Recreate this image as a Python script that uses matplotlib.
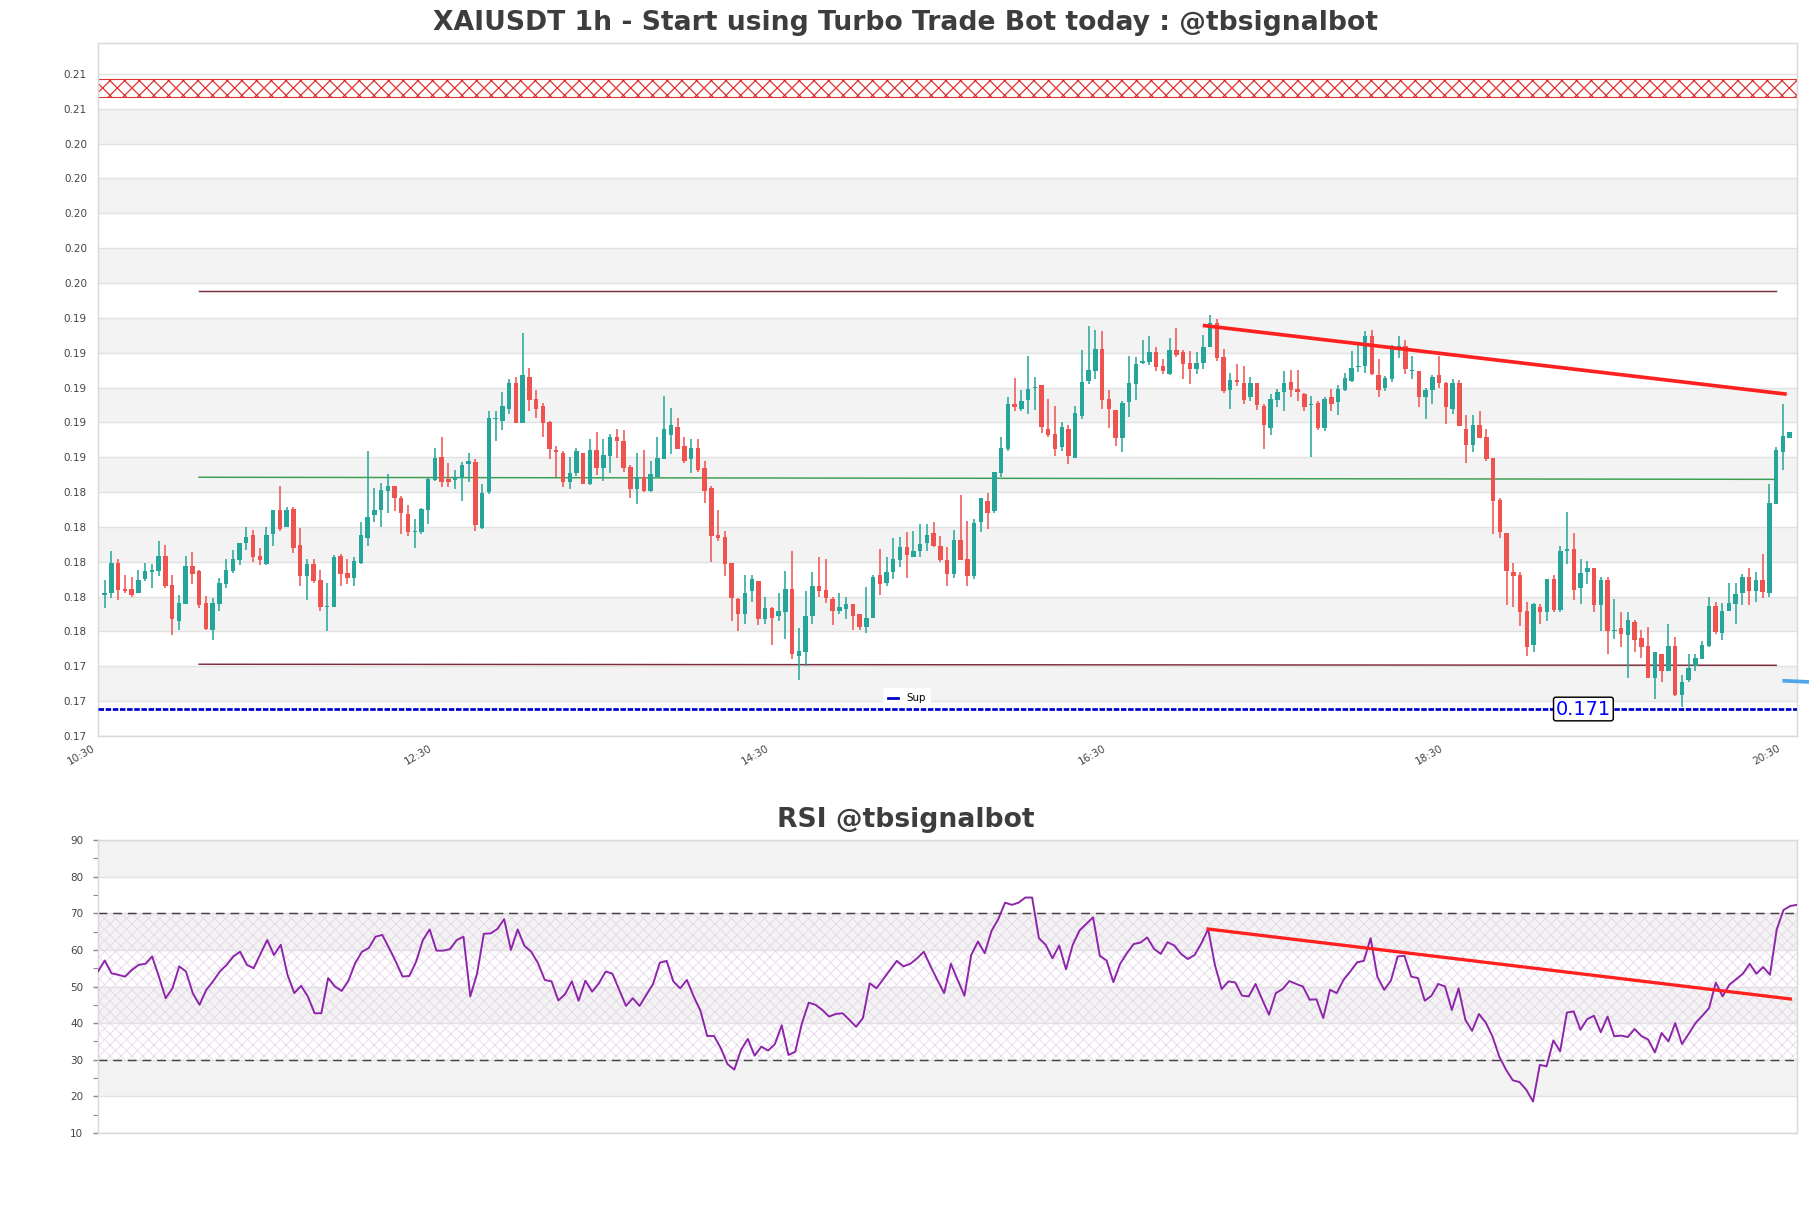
import matplotlib.pyplot as plt
from matplotlib.transforms import ScaledTranslation
import numpy as np

# OHLC candles (one per bar, left to right)
opens = [
    0.17754, 0.17767, 0.17936, 0.17786, 0.17786, 0.17767, 0.17844, 0.17888, 0.17892, 0.17976,
    0.17811, 0.17604, 0.17702, 0.17918, 0.17890, 0.17706, 0.17552, 0.17702, 0.17817, 0.17894,
    0.17955, 0.18051, 0.18097, 0.17976, 0.17930, 0.18103, 0.18243, 0.18147, 0.18246, 0.18039,
    0.17863, 0.17930, 0.17838, 0.17683, 0.17686, 0.17978, 0.17878, 0.17851, 0.17940, 0.18083,
    0.18214, 0.18243, 0.18352, 0.18377, 0.18310, 0.18218, 0.18118, 0.18116, 0.18243, 0.18415,
    0.18544, 0.18419, 0.18415, 0.18425, 0.18507, 0.18517, 0.18141, 0.18344, 0.18766, 0.18755,
    0.18824, 0.18971, 0.18743, 0.19004, 0.18881, 0.18839, 0.18745, 0.18584, 0.18569, 0.18404,
    0.18457, 0.18567, 0.18392, 0.18584, 0.18482, 0.18553, 0.18659, 0.18636, 0.18488, 0.18365,
    0.18431, 0.18352, 0.18434, 0.18536, 0.18674, 0.18718, 0.18609, 0.18536, 0.18596, 0.18486,
    0.18367, 0.18097, 0.18085, 0.17936, 0.17729, 0.17644, 0.17777, 0.17836, 0.17615, 0.17677,
    0.17633, 0.17658, 0.17786, 0.17402, 0.17428, 0.17635, 0.17807, 0.17782, 0.17729, 0.17661,
    0.17673, 0.17700, 0.17648, 0.17571, 0.17623, 0.17869, 0.17821, 0.17888, 0.17955, 0.18028,
    0.17972, 0.18007, 0.18051, 0.18108, 0.18037, 0.17955, 0.17874, 0.18070, 0.17959, 0.17863,
    0.18174, 0.18296, 0.18237, 0.18454, 0.18594, 0.18851, 0.18824, 0.18876, 0.18943, 0.18958,
    0.18707, 0.18678, 0.18603, 0.18707, 0.18540, 0.18783, 0.18985, 0.19039, 0.19167, 0.18879,
    0.18814, 0.18655, 0.18862, 0.18966, 0.19083, 0.19092, 0.19150, 0.19067, 0.19023, 0.19163,
    0.19150, 0.19087, 0.19052, 0.19083, 0.19177, 0.19313, 0.19119, 0.18931, 0.18989, 0.18971,
    0.18889, 0.18970, 0.18837, 0.18713, 0.18876, 0.18918, 0.18977, 0.18939, 0.18908, 0.18847,
    0.18856, 0.18713, 0.18891, 0.18862, 0.18933, 0.18985, 0.19065, 0.19067, 0.19240, 0.19019,
    0.18943, 0.18996, 0.19177, 0.19186, 0.19042, 0.19042, 0.18891, 0.18929, 0.19019, 0.18971,
    0.18824, 0.18971, 0.18707, 0.18617, 0.18732, 0.18661, 0.18540, 0.18300, 0.18108, 0.17888,
    0.17869, 0.17661, 0.17466, 0.17686, 0.17658, 0.17849, 0.17671, 0.18009, 0.18018, 0.17796,
    0.17888, 0.17907, 0.17696, 0.17840, 0.17546, 0.17566, 0.17523, 0.17600, 0.17510, 0.17460,
    0.17278, 0.17418, 0.17316, 0.17460, 0.17182, 0.17264, 0.17345, 0.17389, 0.17462, 0.17690,
    0.17537, 0.17661, 0.17702, 0.17763, 0.17855, 0.17777, 0.17840, 0.17767, 0.18277, 0.18574,
    0.18655,
]
highs = [
    0.17840, 0.18009, 0.17961, 0.17869, 0.17857, 0.17895, 0.17936, 0.17930, 0.18066, 0.18039,
    0.17869, 0.17757, 0.17976, 0.17999, 0.17897, 0.17746, 0.17738, 0.17853, 0.17959, 0.18011,
    0.18051, 0.18147, 0.18128, 0.18026, 0.18147, 0.18243, 0.18379, 0.18258, 0.18258, 0.18137,
    0.17959, 0.17959, 0.17895, 0.17826, 0.17984, 0.17988, 0.17959, 0.17970, 0.18175, 0.18578,
    0.18367, 0.18396, 0.18450, 0.18377, 0.18325, 0.18268, 0.18191, 0.18256, 0.18434, 0.18597,
    0.18661, 0.18509, 0.18473, 0.18517, 0.18569, 0.18536, 0.18390, 0.18808, 0.18808, 0.18920,
    0.18991, 0.19004, 0.19259, 0.19056, 0.18933, 0.18856, 0.18755, 0.18611, 0.18578, 0.18546,
    0.18597, 0.18567, 0.18649, 0.18689, 0.18649, 0.18678, 0.18707, 0.18701, 0.18498, 0.18569,
    0.18584, 0.18526, 0.18661, 0.18899, 0.18828, 0.18770, 0.18659, 0.18649, 0.18649, 0.18526,
    0.18377, 0.18243, 0.18124, 0.17936, 0.17738, 0.17869, 0.17869, 0.17836, 0.17744, 0.17686,
    0.17767, 0.17894, 0.18009, 0.17566, 0.17778, 0.17888, 0.17970, 0.17961, 0.17744, 0.17767,
    0.17740, 0.17702, 0.17648, 0.17798, 0.17869, 0.18016, 0.17970, 0.18080, 0.18085, 0.18118,
    0.18122, 0.18162, 0.18162, 0.18175, 0.18093, 0.18028, 0.18128, 0.18329, 0.18179, 0.18191,
    0.18310, 0.18342, 0.18459, 0.18661, 0.18891, 0.19000, 0.18929, 0.19125, 0.19006, 0.18958,
    0.18881, 0.18837, 0.18747, 0.18728, 0.18837, 0.19159, 0.19298, 0.19275, 0.19269, 0.18933,
    0.18818, 0.18866, 0.19125, 0.19119, 0.19217, 0.19240, 0.19177, 0.19111, 0.19230, 0.19288,
    0.19159, 0.19157, 0.19150, 0.19246, 0.19361, 0.19340, 0.19167, 0.19029, 0.19081, 0.19067,
    0.19004, 0.18970, 0.18853, 0.18910, 0.18939, 0.19042, 0.19044, 0.19044, 0.18914, 0.18895,
    0.18866, 0.18891, 0.18937, 0.18958, 0.19029, 0.19154, 0.19188, 0.19269, 0.19275, 0.19106,
    0.19010, 0.19188, 0.19240, 0.19217, 0.19125, 0.19042, 0.18943, 0.19014, 0.19125, 0.18977,
    0.18996, 0.18987, 0.18785, 0.18785, 0.18812, 0.18709, 0.18540, 0.18310, 0.18108, 0.17936,
    0.17888, 0.17715, 0.17706, 0.17702, 0.17849, 0.17869, 0.18037, 0.18229, 0.18108, 0.17961,
    0.17949, 0.17907, 0.17859, 0.17859, 0.17729, 0.17658, 0.17658, 0.17610, 0.17552, 0.17568,
    0.17428, 0.17418, 0.17590, 0.17514, 0.17297, 0.17418, 0.17418, 0.17489, 0.17740, 0.17715,
    0.17706, 0.17821, 0.17824, 0.17874, 0.17907, 0.17888, 0.17988, 0.18392, 0.18601, 0.18851,
    0.18689,
]
lows = [
    0.17677, 0.17738, 0.17725, 0.17763, 0.17742, 0.17767, 0.17834, 0.17796, 0.17865, 0.17796,
    0.17523, 0.17552, 0.17702, 0.17817, 0.17677, 0.17552, 0.17495, 0.17663, 0.17796, 0.17878,
    0.17926, 0.18012, 0.17945, 0.17926, 0.17926, 0.18036, 0.18122, 0.18147, 0.17997, 0.17805,
    0.17725, 0.17826, 0.17661, 0.17546, 0.17686, 0.17805, 0.17815, 0.17805, 0.17930, 0.18036,
    0.18175, 0.18143, 0.18227, 0.18239, 0.18103, 0.18093, 0.18022, 0.18103, 0.18160, 0.18406,
    0.18375, 0.18373, 0.18362, 0.18294, 0.18404, 0.18122, 0.18133, 0.18333, 0.18636, 0.18703,
    0.18793, 0.18743, 0.18743, 0.18812, 0.18770, 0.18661, 0.18536, 0.18434, 0.18373, 0.18362,
    0.18440, 0.18392, 0.18386, 0.18444, 0.18406, 0.18454, 0.18540, 0.18463, 0.18310, 0.18275,
    0.18344, 0.18344, 0.18434, 0.18536, 0.18565, 0.18594, 0.18511, 0.18454, 0.18463, 0.18281,
    0.17945, 0.18066, 0.17865, 0.17604, 0.17546, 0.17590, 0.17715, 0.17585, 0.17590, 0.17466,
    0.17604, 0.17504, 0.17385, 0.17264, 0.17345, 0.17590, 0.17744, 0.17711, 0.17585, 0.17648,
    0.17615, 0.17552, 0.17552, 0.17537, 0.17623, 0.17754, 0.17807, 0.17849, 0.17913, 0.17853,
    0.17970, 0.17970, 0.18007, 0.18028, 0.17945, 0.17807, 0.17853, 0.17955, 0.17807, 0.17846,
    0.18118, 0.18133, 0.18227, 0.18429, 0.18582, 0.18808, 0.18808, 0.18795, 0.18814, 0.18684,
    0.18659, 0.18553, 0.18582, 0.18507, 0.18540, 0.18764, 0.18966, 0.18994, 0.18824, 0.18713,
    0.18607, 0.18574, 0.18774, 0.18876, 0.19081, 0.19077, 0.19042, 0.19025, 0.19014, 0.19121,
    0.18996, 0.18968, 0.19025, 0.19054, 0.19177, 0.19096, 0.18914, 0.18824, 0.18956, 0.18853,
    0.18866, 0.18814, 0.18594, 0.18674, 0.18831, 0.18808, 0.18889, 0.18866, 0.18808, 0.18544,
    0.18699, 0.18697, 0.18812, 0.18785, 0.18927, 0.18977, 0.19033, 0.19029, 0.19016, 0.18889,
    0.18927, 0.18977, 0.19115, 0.19025, 0.18996, 0.18833, 0.18764, 0.18851, 0.18943, 0.18737,
    0.18793, 0.18722, 0.18511, 0.18574, 0.18655, 0.18526, 0.18103, 0.18080, 0.17696, 0.17686,
    0.17577, 0.17404, 0.17428, 0.17590, 0.17604, 0.17658, 0.17658, 0.17930, 0.17725, 0.17702,
    0.17817, 0.17658, 0.17546, 0.17418, 0.17504, 0.17456, 0.17278, 0.17428, 0.17393, 0.17278,
    0.17155, 0.17255, 0.17316, 0.17172, 0.17111, 0.17255, 0.17316, 0.17389, 0.17456, 0.17533,
    0.17495, 0.17661, 0.17590, 0.17696, 0.17696, 0.17715, 0.17738, 0.17744, 0.18277, 0.18473,
    0.18655,
]
closes = [
    0.17767, 0.17936, 0.17782, 0.17775, 0.17754, 0.17838, 0.17890, 0.17895, 0.17976, 0.17805,
    0.17615, 0.17706, 0.17918, 0.17874, 0.17696, 0.17558, 0.17706, 0.17821, 0.17895, 0.17959,
    0.18051, 0.18085, 0.17974, 0.17955, 0.18097, 0.18243, 0.18133, 0.18243, 0.18026, 0.17863,
    0.17930, 0.17834, 0.17686, 0.17690, 0.17972, 0.17874, 0.17851, 0.17947, 0.18097, 0.18204,
    0.18243, 0.18356, 0.18377, 0.18310, 0.18223, 0.18116, 0.18124, 0.18246, 0.18419, 0.18540,
    0.18404, 0.18404, 0.18431, 0.18502, 0.18526, 0.18156, 0.18339, 0.18770, 0.18772, 0.18839,
    0.18971, 0.18743, 0.19017, 0.18876, 0.18824, 0.18743, 0.18594, 0.18576, 0.18404, 0.18457,
    0.18578, 0.18392, 0.18584, 0.18482, 0.18557, 0.18659, 0.18636, 0.18482, 0.18365, 0.18431,
    0.18352, 0.18448, 0.18540, 0.18707, 0.18728, 0.18594, 0.18525, 0.18596, 0.18471, 0.18352,
    0.18093, 0.18080, 0.17932, 0.17738, 0.17644, 0.17767, 0.17849, 0.17615, 0.17677, 0.17623,
    0.17663, 0.17786, 0.17414, 0.17433, 0.17635, 0.17807, 0.17777, 0.17738, 0.17661, 0.17686,
    0.17700, 0.17635, 0.17571, 0.17623, 0.17855, 0.17815, 0.17888, 0.17961, 0.18028, 0.17984,
    0.18009, 0.18049, 0.18097, 0.18037, 0.17955, 0.17874, 0.18070, 0.17955, 0.17863, 0.18166,
    0.18310, 0.18227, 0.18459, 0.18597, 0.18851, 0.18833, 0.18866, 0.18939, 0.18947, 0.18716,
    0.18674, 0.18594, 0.18718, 0.18553, 0.18797, 0.18977, 0.19046, 0.19167, 0.18876, 0.18824,
    0.18655, 0.18856, 0.18971, 0.19081, 0.19100, 0.19148, 0.19064, 0.19039, 0.19161, 0.19134,
    0.19081, 0.19052, 0.19085, 0.19179, 0.19317, 0.19115, 0.18927, 0.18989, 0.18977, 0.18876,
    0.18971, 0.18847, 0.18728, 0.18879, 0.18920, 0.18971, 0.18933, 0.18918, 0.18833, 0.18853,
    0.18713, 0.18881, 0.18853, 0.18937, 0.19000, 0.19058, 0.19071, 0.19240, 0.19023, 0.18933,
    0.19000, 0.19186, 0.19186, 0.19052, 0.19048, 0.18891, 0.18933, 0.19006, 0.18971, 0.18833,
    0.18971, 0.18726, 0.18617, 0.18732, 0.18655, 0.18534, 0.18294, 0.18116, 0.17892, 0.17863,
    0.17658, 0.17456, 0.17700, 0.17658, 0.17849, 0.17667, 0.18009, 0.18018, 0.17782, 0.17878,
    0.17907, 0.17696, 0.17840, 0.17546, 0.17556, 0.17533, 0.17610, 0.17495, 0.17456, 0.17280,
    0.17428, 0.17316, 0.17460, 0.17182, 0.17255, 0.17337, 0.17393, 0.17470, 0.17690, 0.17543,
    0.17661, 0.17706, 0.17759, 0.17855, 0.17777, 0.17840, 0.17773, 0.18281, 0.18588, 0.18668,
    0.18689,
]

# RSI values (one per point, left to right)
rsi = [
    54.1, 57.1, 53.6, 53.2, 52.7, 54.5, 55.9, 56.2, 58.2, 52.7,
    46.8, 49.5, 55.5, 54.1, 48.2, 45.0, 49.1, 51.4, 54.1, 55.9,
    58.2, 59.5, 55.9, 55.0, 58.9, 62.7, 58.6, 61.4, 53.2, 48.2,
    50.2, 47.3, 42.7, 42.7, 52.3, 50.0, 48.8, 51.6, 56.4, 59.5,
    60.5, 63.6, 64.1, 60.5, 56.8, 52.7, 52.9, 56.8, 62.7, 65.6,
    59.8, 59.8, 60.2, 62.7, 63.6, 47.3, 53.5, 64.4, 64.5, 65.7,
    68.4, 60.0, 65.6, 61.1, 59.5, 56.4, 51.8, 51.4, 46.2, 47.9,
    51.4, 46.1, 51.6, 48.6, 50.9, 54.1, 53.5, 49.1, 44.7, 46.8,
    44.7, 47.7, 50.7, 56.5, 57.0,
    51.4, 49.5, 51.8, 47.3, 43.4, 36.5, 36.5, 33.2, 28.8, 27.3,
    32.7, 35.7, 31.1, 33.6, 32.5, 34.3, 39.4, 31.3, 32.2, 40.0,
    45.6, 45.0, 43.6, 41.8, 42.5, 42.7, 40.9, 39.0, 41.4, 50.9,
    49.5, 52.0, 54.5, 57.0, 55.5, 56.2, 57.7, 59.5, 55.5, 51.8,
    48.2, 56.2, 51.8, 47.5, 58.6, 62.3, 59.1, 65.2, 68.4, 72.9,
    72.3, 72.9, 74.3, 74.3, 63.2, 61.4, 57.7, 61.2, 54.7, 61.4,
    65.3, 67.1, 68.9, 58.4, 57.1, 51.2, 56.2, 59.1, 61.6, 62.0,
    63.4, 60.3, 58.9, 62.1, 61.2, 58.9, 57.5, 58.6, 61.8, 65.7,
    55.9, 49.3, 51.4, 51.1, 47.5,
    47.3, 50.7, 46.4, 42.3, 48.2, 49.3, 51.5, 50.7, 50.0, 46.4,
    46.5, 41.4, 49.1, 48.2, 51.8, 54.1, 56.6, 57.0, 63.2, 52.7,
    49.1, 51.6, 58.2, 58.4, 52.7, 52.3, 46.1, 47.5, 50.7, 50.0,
    43.6, 49.5, 40.9, 37.9, 42.5, 40.2, 36.4, 30.9, 27.3, 24.4,
    23.9, 21.8, 18.6, 28.6, 28.2, 35.3, 32.3, 42.9, 43.2, 38.2,
    41.1, 42.0, 37.5, 41.8, 36.4, 36.6, 36.2, 38.4, 36.5, 35.5,
    32.0, 37.3, 35.0, 40.0, 34.3, 37.1, 40.0, 42.0, 44.1, 51.1,
    47.3, 50.5, 52.0, 53.5, 56.2, 53.5, 55.3, 53.2, 65.6, 70.9,
    72.0, 72.3,
]

time_labels = ['10:30', '12:30', '14:30', '16:30', '18:30', '20:30']

# levels drawn on the price chart
support = 0.171
resistance_zone = [0.2061, 0.20715]
upper_level = [0.19499, 0.19499]
mid_level = [0.18430, 0.18418]
lower_level = [0.17357, 0.17351]
level_span = [14, 248]
price_trend_x = [163.2, 249.3]
price_trend_y = [0.1930, 0.18908]
rsi_trend_x = [164, 250]
rsi_trend_y = [65.7, 46.6]

UP, DOWN = '#26a69a', '#ef5350'
DPI = 132

fig = plt.figure(figsize=(1811 / DPI, 1208 / DPI), dpi=DPI)
ax = fig.add_axes([0.0541, 0.3907, 0.9382, 0.5737])
ax2 = fig.add_axes([0.0541, 0.0621, 0.9382, 0.2425])

# ---------------- price panel ----------------
o, h, l, c = (np.array(v) for v in (opens, highs, lows, closes))
x = np.arange(len(o))
cols = np.where(c >= o, UP, DOWN)
ax.vlines(x, l, h, color=cols, lw=0.85, zorder=3)
body = np.maximum(np.abs(c - o), 0.00003)
ax.bar(x, body, bottom=np.minimum(o, c), width=0.66, color=cols, zorder=4)

yticks = 0.16945 + 0.002 * np.arange(20)
ax.set_ylim(0.16945, 0.20922)
ax.set_xlim(-1, 251.1)
for i in range(1, 19, 2):
    ax.axhspan(yticks[i], yticks[i + 1], color='#f3f3f3', lw=0, zorder=0)
ax.set_yticks(yticks)
ax.set_yticklabels([f'{v:.2f}' for v in yticks])
ax.grid(axis='y', color='#e2e2e2', lw=0.8)
ax.set_axisbelow(True)

plt.rcParams['hatch.linewidth'] = 0.7
ax.axhspan(resistance_zone[0], resistance_zone[1], facecolor='white',
           edgecolor='#e03535', hatch='xxx', lw=0.6, zorder=1)

ax.plot(level_span, upper_level, color='#7d2c3c', lw=0.8, zorder=2)
ax.plot(level_span, mid_level, color='#3a9d4f', lw=0.8, zorder=2)
ax.plot(level_span, lower_level, color='#7d2c3c', lw=0.8, zorder=2)
ax.plot(price_trend_x, price_trend_y, color='#ff2020', lw=2.0, zorder=5)

ax.axhline(support, color='#0000cc', lw=1.5, ls=(0, (2, 0.6)), zorder=5, label='Sup')
ax.text(219.4, support, f'{support:.3f}', color='#0000ff', fontsize=10.5,
        ha='center', va='center', zorder=6,
        bbox=dict(boxstyle='round,pad=0.12', fc='white', ec='black', lw=0.8))
ax.plot([249.2, 252.6], [0.17262, 0.17256], color='#4da6e8', lw=2, clip_on=False, zorder=6)

leg = ax.legend(loc='lower center', bbox_to_anchor=(0.476, 0.034), fontsize=5.6,
                handlelength=1.0, frameon=True, facecolor='white', edgecolor='white',
                framealpha=1)
leg.get_lines()[0].set_linestyle('-')

ax.set_xticks([-1, 49, 99, 149, 199, 249])
ax.set_xticklabels(time_labels, rotation=30, ha='right', rotation_mode='anchor')
ax.tick_params(axis='x', length=0, labelsize=5.7, labelcolor='#444444', pad=4)
ax.tick_params(axis='y', length=0, labelsize=5.7, labelcolor='#444444', pad=6)
shift = ScaledTranslation(-6 / DPI, 0, fig.dpi_scale_trans)
for lab in ax.get_xticklabels():
    lab.set_transform(lab.get_transform() + shift)
for s in ax.spines.values():
    s.set_color('#d9d9d9')

# ---------------- RSI panel ----------------
xr = np.arange(len(rsi))
ax2.set_xlim(0, len(rsi) - 1)
ax2.set_ylim(10, 90)
for lo in (20, 40, 60, 80):
    ax2.axhspan(lo, lo + 10, color='#f3f3f3', lw=0, zorder=0)
plt.rcParams['hatch.linewidth'] = 0.45
ax2.fill_between([0, len(rsi) - 1], 30, 70, facecolor='none', edgecolor='#e6d6ea',
                 hatch='xxxx', lw=0, zorder=1)
ax2.axhline(70, color='#444444', lw=0.8, ls=(0, (6, 4)), zorder=2)
ax2.axhline(30, color='#444444', lw=0.8, ls=(0, (6, 4)), zorder=2)
ax2.plot(xr, rsi, color='#8e24aa', lw=1.05, zorder=4)
ax2.plot(rsi_trend_x, rsi_trend_y, color='#ff2020', lw=1.8, zorder=5)

ax2.set_yticks(range(10, 91, 10))
ax2.set_yticks(range(15, 90, 10), minor=True)
ax2.grid(axis='y', color='#e2e2e2', lw=0.8)
ax2.set_axisbelow(True)
ax2.set_xticks([])
ax2.tick_params(axis='y', which='both', length=3, color='#888888', labelsize=5.7,
                labelcolor='#444444', pad=5)
for s in ax2.spines.values():
    s.set_color('#d9d9d9')

fig.text(0.5, 1 - 23 / 1208, 'XAIUSDT 1h - Start using Turbo Trade Bot today : @tbsignalbot',
         ha='center', va='center', fontsize=14.5, fontweight='bold', color='#3d3d3d')
fig.text(0.5, 1 - 820 / 1208, 'RSI @tbsignalbot', ha='center', va='center',
         fontsize=14.5, fontweight='bold', color='#3d3d3d')

fig.savefig('out.png', dpi=DPI)
